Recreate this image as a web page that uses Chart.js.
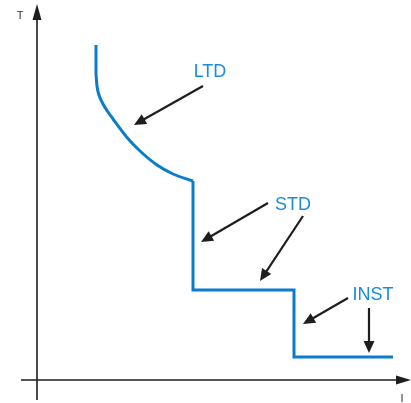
<!DOCTYPE html>
<html lang="en">
<head>
    <meta charset="UTF-8">
    <title>Trip Curve</title>
    <script src="https://cdn.jsdelivr.net/npm/chart.js"></script>
    <style>
        body {
            margin: 0;
            background: #ffffff;
        }
        canvas {
            display: block;
        }
    </style>
</head>
<body>
    <canvas id="tripChart" width="411" height="403"></canvas>

    <script>
        // Curve data (I = current, T = time), arbitrary units
        const ltdI = [5.9, 5.9, 6.0, 6.2, 6.6, 7.1, 7.6, 9.0, 10.3, 12.0, 13.6, 15.6];
        const ltdT = [33.5, 30.6, 29.4, 28.5, 27.6, 26.8, 26.1, 24.25, 22.9, 21.5, 20.6, 19.9];
        const stepI = [15.6, 15.6, 25.7, 25.7, 35.6];
        const stepT = [19.9, 9.0, 9.0, 2.3, 2.3];

        // Annotation labels and their positions
        const labelText = ['LTD', 'STD', 'INST'];
        const labelI = [17.3, 25.6, 33.6];
        const labelT = [30.8, 17.5, 8.5];

        // Pointer arrows: from (fromI, fromT) to tip (toI, toT)
        const arrowFromI = [16.6, 23.1, 26.6, 31.1, 33.2];
        const arrowFromT = [29.4, 17.7, 16.4, 8.2, 7.2];
        const arrowToI = [9.7, 16.4, 22.3, 26.6, 33.2];
        const arrowToT = [25.5, 13.8, 9.9, 5.6, 2.7];

        const blue = '#0a7cc9';
        const labelBlue = '#1a8cd8';
        const ink = '#1e1e1e';

        function toPoints(xs, ys) {
            return xs.map((x, i) => ({ x: x, y: ys[i] }));
        }

        function arrowHead(ctx, x1, y1, x2, y2, len, half) {
            const a = Math.atan2(y2 - y1, x2 - x1);
            ctx.beginPath();
            ctx.moveTo(x2, y2);
            ctx.lineTo(x2 - len * Math.cos(a) + half * Math.sin(a), y2 - len * Math.sin(a) - half * Math.cos(a));
            ctx.lineTo(x2 - len * Math.cos(a) - half * Math.sin(a), y2 - len * Math.sin(a) + half * Math.cos(a));
            ctx.closePath();
            ctx.fill();
        }

        // Draws the axes, pointer arrows and labels in data coordinates
        const annotations = {
            id: 'annotations',
            afterDatasetsDraw(chart) {
                const ctx = chart.ctx;
                const xs = chart.scales.x;
                const ys = chart.scales.y;
                const px = v => xs.getPixelForValue(v);
                const py = v => ys.getPixelForValue(v);

                ctx.save();
                ctx.strokeStyle = ink;
                ctx.fillStyle = ink;
                ctx.lineWidth = 1.6;

                // axes
                ctx.beginPath();
                ctx.moveTo(px(0), py(-2.0));
                ctx.lineTo(px(0), py(36.5));
                ctx.moveTo(px(-1.6), py(0));
                ctx.lineTo(px(36.2), py(0));
                ctx.stroke();
                arrowHead(ctx, px(0), py(0), px(0), py(37.6), 16, 4.5);
                arrowHead(ctx, px(0), py(0), px(37.4), py(0), 15, 4.5);

                // pointer arrows
                ctx.lineWidth = 2.2;
                for (let i = 0; i < arrowFromI.length; i++) {
                    const x1 = px(arrowFromI[i]), y1 = py(arrowFromT[i]);
                    const x2 = px(arrowToI[i]), y2 = py(arrowToT[i]);
                    const a = Math.atan2(y2 - y1, x2 - x1);
                    ctx.beginPath();
                    ctx.moveTo(x1, y1);
                    ctx.lineTo(x2 - 8 * Math.cos(a), y2 - 8 * Math.sin(a));
                    ctx.stroke();
                    arrowHead(ctx, x1, y1, x2, y2, 12, 5.5);
                }

                // axis labels
                ctx.fillStyle = '#333';
                ctx.font = '11px "Liberation Sans", Arial, sans-serif';
                ctx.textAlign = 'center';
                ctx.textBaseline = 'middle';
                ctx.fillText('T', px(-1.7), py(36.4));
                ctx.fillText('I', px(36.5), py(-1.9));

                // curve labels
                ctx.fillStyle = labelBlue;
                ctx.font = '18px "Liberation Sans", Arial, sans-serif';
                for (let i = 0; i < labelText.length; i++) {
                    ctx.fillText(labelText[i], px(labelI[i]), py(labelT[i]));
                }
                ctx.restore();
            }
        };

        const ltdPoints = toPoints(ltdI, ltdT);
        const lineStyle = {
            showLine: true,
            borderColor: blue,
            borderWidth: 3,
            pointRadius: 0,
            borderCapStyle: 'butt',
            borderJoinStyle: 'miter'
        };

        const ctx = document.getElementById('tripChart').getContext('2d');
        const tripChart = new Chart(ctx, {
            type: 'scatter',
            data: {
                datasets: [
                    // vertical start of the LTD band
                    Object.assign({ label: 'LTD start', data: ltdPoints.slice(0, 2), tension: 0 }, lineStyle),
                    // LTD curve
                    Object.assign({ label: 'LTD', data: ltdPoints.slice(1), cubicInterpolationMode: 'monotone' }, lineStyle),
                    // STD and INST steps
                    Object.assign({ label: 'STD / INST', data: toPoints(stepI, stepT), tension: 0 }, lineStyle)
                ]
            },
            options: {
                responsive: false,
                animation: false,
                layout: { padding: 0 },
                scales: {
                    x: { type: 'linear', display: false, min: -3.7, max: 37.4 },
                    y: { type: 'linear', display: false, min: -2.3, max: 38.0 }
                },
                plugins: {
                    legend: { display: false },
                    tooltip: { enabled: false }
                }
            },
            plugins: [annotations]
        });
    </script>
</body>
</html>
